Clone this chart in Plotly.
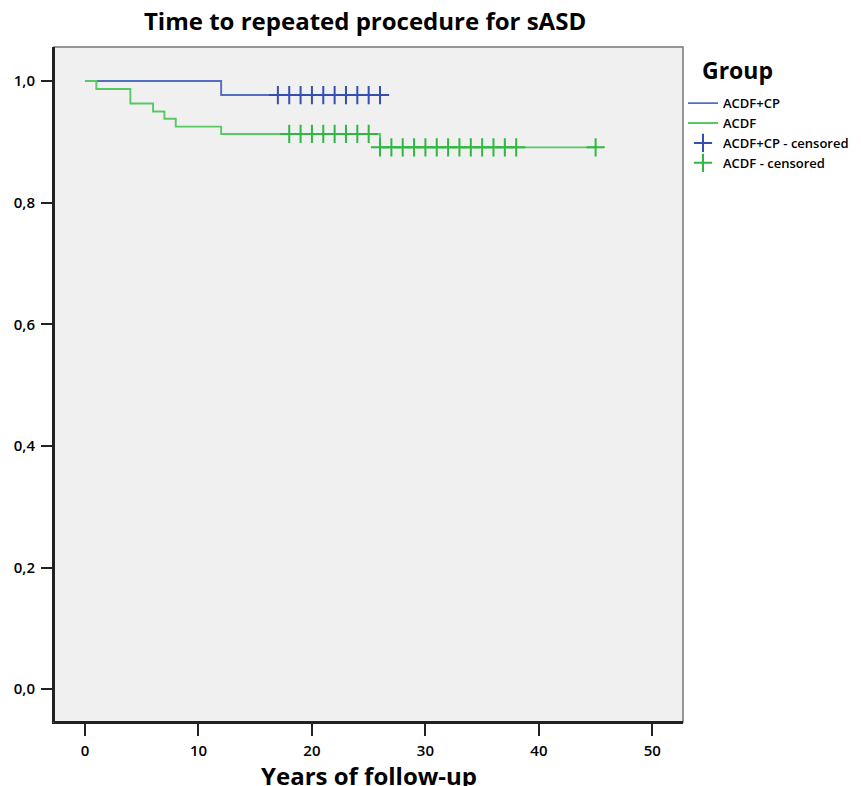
import plotly.graph_objects as go

# ---- data ----
cp_times = [0, 12, 26]
cp_surv = [1.0, 0.977, 0.977]
cp_cens_t = [17, 18, 19, 20, 21, 22, 23, 24, 25, 26]
cp_cens_s = [0.977] * len(cp_cens_t)

acdf_times = [0, 1, 4, 6, 7, 8, 12, 26, 45]
acdf_surv = [1.0, 0.987, 0.963, 0.950, 0.938, 0.925, 0.913, 0.891, 0.891]
acdf_cens_t = [18, 19, 20, 21, 22, 23, 24, 25,
               26, 27, 28, 29, 30, 31, 32, 33, 34, 35, 36, 37, 38, 45]
acdf_cens_s = [0.913] * 8 + [0.891] * 14

x_ticks = [0, 10, 20, 30, 40, 50]
y_ticks = [0.0, 0.2, 0.4, 0.6, 0.8, 1.0]

BLUE = "rgb(82,110,192)"
BLUE_D = "rgb(52,78,178)"
GREEN = "rgb(88,200,100)"
GREEN_D = "rgb(48,182,66)"

FONT = "Open Sans"

fig = go.Figure()
fig.add_trace(go.Scatter(x=cp_times, y=cp_surv, mode="lines", line=dict(shape="hv", color=BLUE, width=1.9),
                         name="ACDF+CP"))
fig.add_trace(go.Scatter(x=acdf_times, y=acdf_surv, mode="lines", line=dict(shape="hv", color=GREEN, width=1.9),
                         name="ACDF"))
fig.add_trace(go.Scatter(x=cp_cens_t, y=cp_cens_s, mode="markers",
                         marker=dict(symbol="cross-thin", size=13, line=dict(color=BLUE_D, width=2)),
                         name="ACDF+CP - censored"))
fig.add_trace(go.Scatter(x=acdf_cens_t, y=acdf_cens_s, mode="markers",
                         marker=dict(symbol="cross-thin", size=13, line=dict(color=GREEN_D, width=2)),
                         name="ACDF - censored"))

fig.update_layout(
    width=861, height=786,
    margin=dict(l=54, r=178, t=47, b=64, autoexpand=False),
    paper_bgcolor="white", plot_bgcolor="#f0f0f0",
    separators=",.",
    font=dict(family=FONT, color="black"),
    title=dict(text="<b>Time to repeated procedure for sASD</b>", x=0.424, xanchor="center",
               y=0.972, yanchor="middle", font=dict(size=24, family=FONT)),
    showlegend=True,
    legend=dict(x=1.0, y=0.939, xanchor="left", yanchor="top", bgcolor="rgba(0,0,0,0)",
                font=dict(size=13, family=FONT, weight=600), tracegroupgap=0),
    xaxis=dict(range=[-2.73, 52.7], tickvals=x_ticks, showgrid=False, zeroline=False, automargin=False,
               showline=True, linecolor="#222", linewidth=2, ticks="outside", ticklen=12,
               tickwidth=2, tickcolor="#222", tickfont=dict(size=15, family=FONT, weight=600),
               ticklabelstandoff=2),
    yaxis=dict(range=[-0.054, 1.056], tickvals=y_ticks, tickformat=".1f", showgrid=False, zeroline=False,
               automargin=False,
               showline=True, linecolor="#222", linewidth=2, ticks="outside", ticklen=11,
               tickwidth=2, tickcolor="#222", tickfont=dict(size=15, family=FONT, weight=600),
               ticklabelstandoff=3),
    annotations=[
        dict(text="<b>Years of follow-up</b>", xref="paper", yref="paper", x=0.5, y=-0.079,
             xanchor="center", yanchor="middle", showarrow=False, font=dict(size=24, family=FONT)),
        dict(text="<b>Group</b>", xref="paper", yref="paper", x=1.0859, y=0.966,
             xanchor="center", yanchor="middle", showarrow=False, font=dict(size=23, family=FONT)),
    ],
)
# frame top/right (grey), left/bottom dark
fig.add_shape(type="rect", xref="paper", yref="paper", x0=0, y0=0, x1=1, y1=1,
              line=dict(color="#777", width=1.5), layer="above")
fig.add_shape(type="line", xref="paper", yref="paper", x0=0, y0=0, x1=1, y1=0,
              line=dict(color="#222", width=2), layer="above")
fig.add_shape(type="line", xref="paper", yref="paper", x0=0, y0=0, x1=0, y1=1,
              line=dict(color="#222", width=2), layer="above")

fig.write_html("out.html", config={"displayModeBar": False},
               post_script="document.body.style.margin='0';document.body.style.overflow='hidden';")
